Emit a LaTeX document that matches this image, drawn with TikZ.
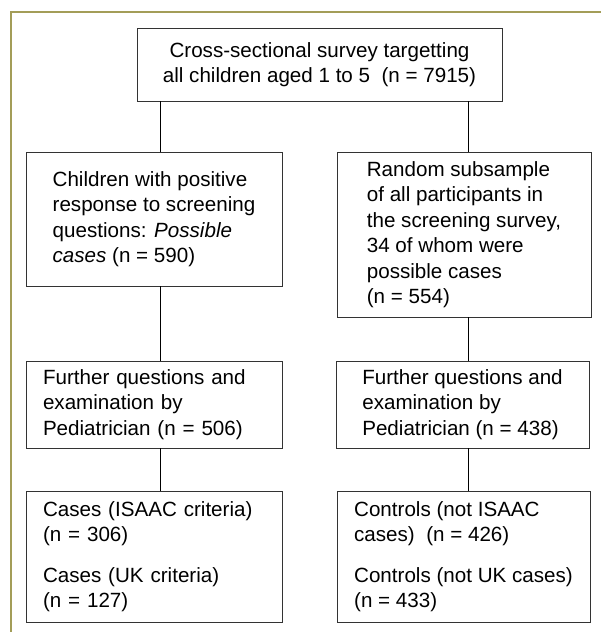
\documentclass[tikz,border=0pt]{standalone}
\usepackage{fontspec}
\setmainfont{Liberation Sans}
\definecolor{frameolive}{RGB}{163,157,88}

\begin{document}
\begin{tikzpicture}[x=1pt, y=-1pt, font=\fontsize{20.6}{25.5}\selectfont,
	box/.style={shape=rectangle, draw=black!80, line width=0.9pt, fill=white, align=left, minimum width=256, inner sep=0pt}]
	\useasboundingbox (0,0) rectangle (601,632);
	\draw[frameolive, line width=2.5pt] (11,640) -- (11,12) -- (605,12);
	\node[box, align=center, minimum width=365, minimum height=73] (A) at (319.5,64.5) {Cross-sectional survey targetting\\all children aged 1 to 5\ \ (n = 7915)};
	\node[box, minimum height=134] (B) at (154,219) {Children with positive\\response to screening\\questions: \textit{Possible}\\\textit{cases} (n = 590)};
	\node[box, minimum width=254, minimum height=165] (C) at (464,234.5) {Random subsample\\of all participants in\\the screening survey,\\34 of whom were\\possible cases\\(n = 554)};
	\node[box, text width=222, inner xsep=17, minimum height=87] (D) at (154,404.5) {Further questions and\\examination by\\Pediatrician (n = 506)};
	\node[box, minimum width=253, minimum height=87] (E) at (462.5,404.5) {Further questions and\\examination by\\Pediatrician (n = 438)};
	\node[box, text width=222, inner xsep=17, minimum height=131] (F) at (154,556.5) {Cases (ISAAC criteria)\\(n = 306)\\[15pt]Cases (UK criteria)\\(n = 127)};
	\node[box, minimum width=253, minimum height=131] (G) at (463.5,556.5) {Controls (not ISAAC\\cases)\ \ (n = 426)\\[15pt]Controls (not UK cases)\\(n = 433)};
	\draw (A.south -| B.north) ++(6,0) -- ([xshift=6]B.north);
	\draw (A.south -| C.north) ++(4,0) -- ([xshift=4]C.north);
	\draw ([xshift=6]B.south) -- ([xshift=6]D.north);
	\draw ([xshift=4]C.south) -- ([xshift=5.5]E.north);
	\draw ([xshift=6]D.south) -- ([xshift=6]F.north);
	\draw ([xshift=5.5]E.south) -- ([xshift=4.5]G.north);
\end{tikzpicture}
\end{document}
